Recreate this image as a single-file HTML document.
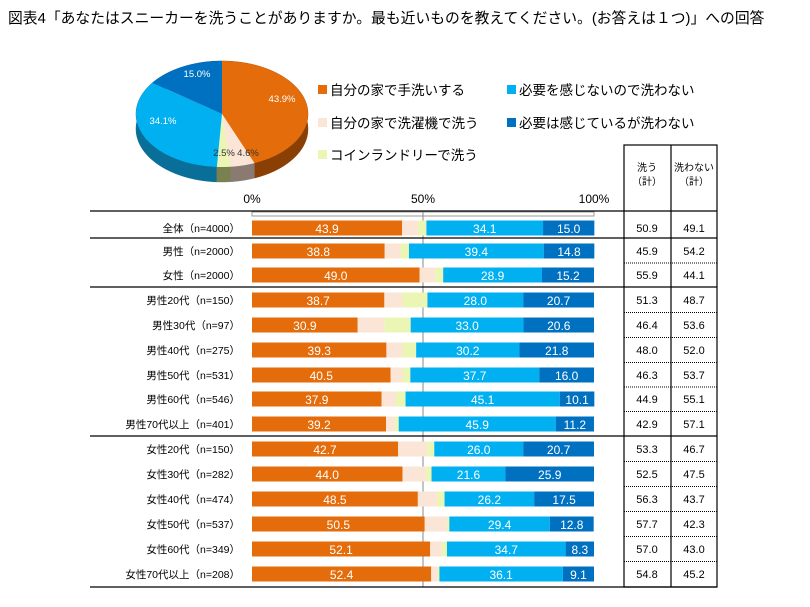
<!DOCTYPE html>
<html><head><meta charset="utf-8">
<style>
body{margin:0;background:#fff;}
svg{display:block;font-family:"Liberation Sans","Noto Sans CJK JP",sans-serif;}
</style></head>
<body>
<svg id="chart" width="810" height="607" viewBox="0 0 810 607" xmlns="http://www.w3.org/2000/svg">
<text x="8" y="23" font-size="14.8" fill="#000">図表4「あなたはスニーカーを洗うことがありますか。最も近いものを教えてください。(お答えは１つ)」への回答</text>
<g id="pie"></g>
<g id="legend"></g>
<g id="bars"></g>
<g id="table"></g>
</svg>
<script>
const seriesNames=["自分の家で手洗いする","自分の家で洗濯機で洗う","コインランドリーで洗う","必要を感じないので洗わない","必要は感じているが洗わない"];
const colors=["#E46C0A","#FBE5D6","#EBF5B4","#00B0F0","#0070C0"];
const sideColors=["#8a3f05","#8a7b72","#7a8150","#0a6f98","#0a4a80"];
const pieValues=[43.9,4.6,2.5,34.1,15.0];
const pieLabels=["43.9%","4.6%","2.5%","34.1%","15.0%"];
const categories=["全体（n=4000）","男性（n=2000）","女性（n=2000）","男性20代（n=150）","男性30代（n=97）","男性40代（n=275）","男性50代（n=531）","男性60代（n=546）","男性70代以上（n=401）","女性20代（n=150）","女性30代（n=282）","女性40代（n=474）","女性50代（n=537）","女性60代（n=349）","女性70代以上（n=208）"];
const handWash=[43.9,38.8,49.0,38.7,30.9,39.3,40.5,37.9,39.2,42.7,44.0,48.5,50.5,52.1,52.4];
const machineWash=[4.6,4.6,4.6,5.3,7.9,4.7,3.5,4.2,2.5,8.5,6.8,5.6,6.5,3.4,1.8];
const laundromat=[2.5,2.5,2.3,7.3,7.6,4.0,2.3,2.8,1.2,2.1,1.7,2.2,0.7,1.5,0.6];
const noNeed=[34.1,39.4,28.9,28.0,33.0,30.2,37.7,45.1,45.9,26.0,21.6,26.2,29.4,34.7,36.1];
const needButNot=[15.0,14.8,15.2,20.7,20.6,21.8,16.0,10.1,11.2,20.7,25.9,17.5,12.8,8.3,9.1];
const washTotal=["50.9","45.9","55.9","51.3","46.4","48.0","46.3","44.9","42.9","53.3","52.5","56.3","57.7","57.0","54.8"];
const noWashTotal=["49.1","54.2","44.1","48.7","53.6","52.0","53.7","55.1","57.1","46.7","47.5","43.7","42.3","43.0","45.2"];
const tickLabels=["0%","50%","100%"];
const tickValues=[0,50,100];

const NS="http://www.w3.org/2000/svg";
function mk(tag,attrs,parent,txt){const e=document.createElementNS(NS,tag);for(const k in attrs)e.setAttribute(k,attrs[k]);if(txt!==undefined)e.textContent=txt;parent.appendChild(e);return e;}

// ---- pie
const pie=document.getElementById('pie');
const cx=222,cy=114,rx=86,ry=53,depth=15;
const P=(t,dy)=>[cx+rx*Math.sin(t),cy-ry*Math.cos(t)+(dy||0)];
const tot=pieValues.reduce((a,b)=>a+b,0);
let acc=0;const segs=[];
pieValues.forEach((v,i)=>{const a0=acc/tot*2*Math.PI;acc+=v;const a1=acc/tot*2*Math.PI;segs.push([a0,a1,i]);});
segs.slice().sort((a,b)=>-Math.cos((a[0]+a[1])/2)+Math.cos((b[0]+b[1])/2)).forEach(([a0,a1,i])=>{
  let pts=[];const n=40;
  for(let k=0;k<=n;k++){pts.push(P(a0+(a1-a0)*k/n));}
  for(let k=n;k>=0;k--){pts.push(P(a0+(a1-a0)*k/n,depth));}
  const el=mk('polygon',{points:pts.map(p=>p.join(',')).join(' '),fill:sideColors[i],stroke:sideColors[i],'stroke-width':0.5},pie);
  
  
});
segs.forEach(([a0,a1,i])=>{
  let pts=[[cx,cy]];const n=60;
  for(let k=0;k<=n;k++)pts.push(P(a0+(a1-a0)*k/n));
  const el=mk('polygon',{points:pts.map(p=>p.join(',')).join(' '),fill:colors[i]},pie);
  
  
});
const labelPos=[[282,102,'#fff'],[248,156,'#333'],[224,156,'#333'],[163,124,'#fff'],[197,77,'#fff']];
pieLabels.forEach((l,i)=>{
  const el=mk('text',{x:labelPos[i][0],y:labelPos[i][1],'font-size':9.5,fill:labelPos[i][2],'text-anchor':'middle'},pie,l);
  
  
});

// ---- legend
const lg=document.getElementById('legend');
const lpos=[[318,90],[318,123],[318,155],[507,90],[507,123]];
seriesNames.forEach((s,i)=>{
  const g=mk('g',{},lg);
  
  
  mk('rect',{x:lpos[i][0],y:lpos[i][1]-5,width:9,height:9,fill:colors[i]},g);
  mk('text',{x:lpos[i][0]+12,y:lpos[i][1]+5,'font-size':13.5,fill:'#000'},g,s);
});

// ---- bars
const bars=document.getElementById('bars');
const x0=252,x1=594;
const xs=v=>x0+(x1-x0)*v/100;
const rowY=[228,251,275,300,325,350,375,399,424,449,474,499,524,549,574];
const barH=15;
tickValues.forEach((t,i)=>{
  const el=mk('text',{x:xs(t),y:203,'font-size':12,'text-anchor':'middle',fill:'#000'},bars,tickLabels[i]);
  
  
});
mk('rect',{x:x0,y:212,width:x1-x0,height:4,fill:'none',stroke:'#999','stroke-width':1},bars);
mk('line',{x1:xs(50),x2:xs(50),y1:212,y2:587,stroke:'#888','stroke-width':1},bars);
const seps=[211,238,287,436,587];
seps.forEach(y=>{mk('line',{x1:90,x2:624,y1:y,y2:y,stroke:'#000','stroke-width':1.2},bars);});
const series=[handWash,machineWash,laundromat,noNeed,needButNot];
categories.forEach((c,r)=>{
  const y=rowY[r];
  const lab=mk('text',{x:240,y:y+4,'font-size':10.5,'text-anchor':'end',fill:'#000'},bars,c);
  
  
  let start=0;
  series.forEach((s,si)=>{
    const v=s[r];
    const rect=mk('rect',{x:xs(start),y:y-barH/2,width:xs(start+v)-xs(start),height:barH,fill:colors[si]},bars);
    
    
    if(si===0||si>=3){
      const t=mk('text',{x:(xs(start)+xs(start+v))/2,y:y+5,'font-size':12,'text-anchor':'middle',fill:'#fff'},bars,v.toFixed(1));
      
      
    }
    start+=v;
  });
});

// ---- table
const tb=document.getElementById('table');
const tl=624,tm=671,tr=717,tt=145;
mk('rect',{x:tl,y:tt,width:tr-tl,height:587-tt,fill:'none',stroke:'#000','stroke-width':1.2},tb);
mk('line',{x1:tm,x2:tm,y1:tt,y2:587,stroke:'#000','stroke-width':1.2},tb);
seps.forEach(y=>mk('line',{x1:tl,x2:tr,y1:y,y2:y,stroke:'#000','stroke-width':1.2},tb));
mk('text',{x:647,y:171,'font-size':10,'text-anchor':'middle'},tb,'洗う');
mk('text',{x:647,y:185,'font-size':10,'text-anchor':'middle'},tb,'（計）');
mk('text',{x:694,y:171,'font-size':10,'text-anchor':'middle'},tb,'洗わない');
mk('text',{x:694,y:185,'font-size':10,'text-anchor':'middle'},tb,'（計）');
for(let r=0;r<rowY.length-1;r++){
  const ym=(rowY[r]+rowY[r+1])/2;
  if(!seps.some(s=>Math.abs(s-ym)<8)) mk('line',{x1:tl,x2:tr,y1:ym,y2:ym,stroke:'#000','stroke-width':1,'stroke-dasharray':'1,1'},tb);
}
categories.forEach((c,r)=>{
  const a=mk('text',{x:647,y:rowY[r]+4,'font-size':11,'text-anchor':'middle'},tb,washTotal[r]);
  
  
  const b=mk('text',{x:694,y:rowY[r]+4,'font-size':11,'text-anchor':'middle'},tb,noWashTotal[r]);
  
  
});
</script>
</body></html>
